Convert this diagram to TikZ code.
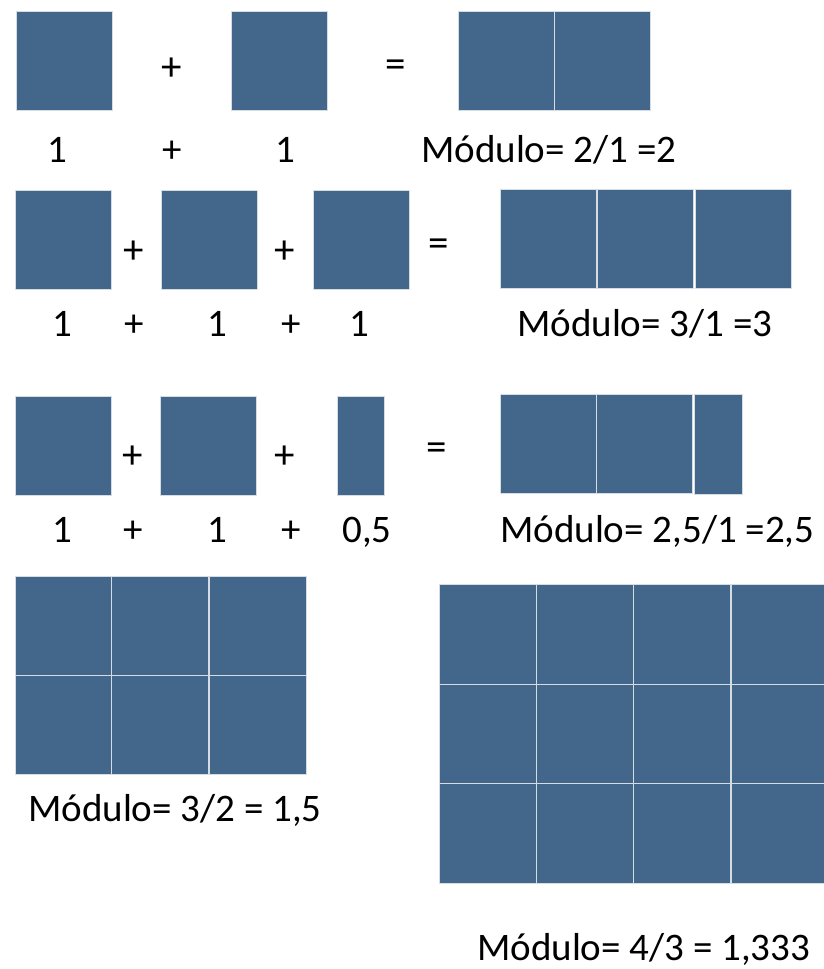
\documentclass[tikz,border=0pt]{standalone}
\usepackage{fontspec}
\setmainfont{Carlito}
\definecolor{boxblue}{HTML}{43678A}
\definecolor{gridline}{HTML}{D5DCE4}
\tikzset{
  cell/.style={fill=boxblue, draw=gridline, line width=0.9pt, inner sep=0pt, anchor=north west},
  sq/.style={cell, minimum width=96pt, minimum height=99pt},
  lbl/.style={font=\fontsize{39}{45}\selectfont, inner sep=0pt, anchor=base},
  op/.style={font=\fontsize{41}{47}\selectfont, inner sep=0pt, anchor=center},
  modl/.style={font=\fontsize{39}{45}\selectfont, inner sep=0pt, anchor=base west}
}
\begin{document}
\begin{tikzpicture}[x=1pt,y=-1pt]
\useasboundingbox (0,0) rectangle (824,969);
% ---------- Row 1 ----------
\node[sq] (r1a) at (16,11) {};
\node[op] (r1p) at (172,69) {+};
\node[sq] (r1b) at (231,11) {};
\node[op] (r1e) at (396,69) {=};
\node[sq] (r1c1) at (458,11) {};
\node[sq] (r1c2) at (554,11) {};
\node[lbl] (r1l1) at (57,162) {1};
\node[lbl] (r1l2) at (172,162) {+};
\node[lbl] (r1l3) at (285,162) {1};
\node[modl] (r1m) at (421,162) {Módulo= 2/1 =2};
% ---------- Row 2 ----------
\node[sq] (r2a) at (15,190) {};
\node[op] (r2p1) at (134,252) {+};
\node[sq] (r2b) at (161,190) {};
\node[op] (r2p2) at (285,252) {+};
\node[sq] (r2c) at (313,190) {};
\node[op] (r2e) at (439,248) {=};
\node[sq] (r2d1) at (500,189) {};
\node[sq] (r2d2) at (597,189) {};
\node[sq] (r2d3) at (695,189) {};
\node[lbl] (r2l1) at (62,336) {1};
\node[lbl] (r2l2) at (134,336) {+};
\node[lbl] (r2l3) at (217,336) {1};
\node[lbl] (r2l4) at (291,336) {+};
\node[lbl] (r2l5) at (359,336) {1};
\node[modl] (r2m) at (517,336) {Módulo= 3/1 =3};
% ---------- Row 3 ----------
\node[sq] (r3a) at (15,396) {};
\node[op] (r3p1) at (133,457) {+};
\node[sq] (r3b) at (160,396) {};
\node[op] (r3p2) at (285,457) {+};
\node[cell, minimum width=47pt, minimum height=99pt] (r3c) at (337,396) {};
\node[op] (r3e) at (437,452) {=};
\node[sq] (r3d1) at (500,394) {};
\node[sq] (r3d2) at (596,394) {};
\node[cell, minimum width=48pt, minimum height=100pt] (r3d3) at (694,394) {};
\node[lbl] (r3l1) at (62,542) {1};
\node[lbl] (r3l2) at (133,542) {+};
\node[lbl] (r3l3) at (217,542) {1};
\node[lbl] (r3l4) at (291,542) {+};
\node[lbl] (r3l5) at (367,542) {0,5};
\node[modl] (r3m) at (500,542) {Módulo= 2,5/1 =2,5};
% ---------- Left grid 3x2 ----------
\foreach \c/\x in {0/15,1/111,2/209}{
  \foreach \r/\y in {0/576,1/675}{
    \node[cell, minimum width=97pt, minimum height=99pt] (g1-\c-\r) at (\x,\y) {};
  }
}
\node[modl] (g1m) at (28,821) {Módulo= 3/2 = 1,5};
% ---------- Right grid 4x3 ----------
\foreach \c/\x in {0/439,1/536,2/633,3/731}{
  \foreach \r/\y in {0/584,1/684,2/783}{
    \node[cell, minimum width=97pt, minimum height=100pt] (g2-\c-\r) at (\x,\y) {};
  }
}
\node[modl] (g2m) at (477,960) {Módulo= 4/3 = 1,333};
\end{tikzpicture}
\end{document}
